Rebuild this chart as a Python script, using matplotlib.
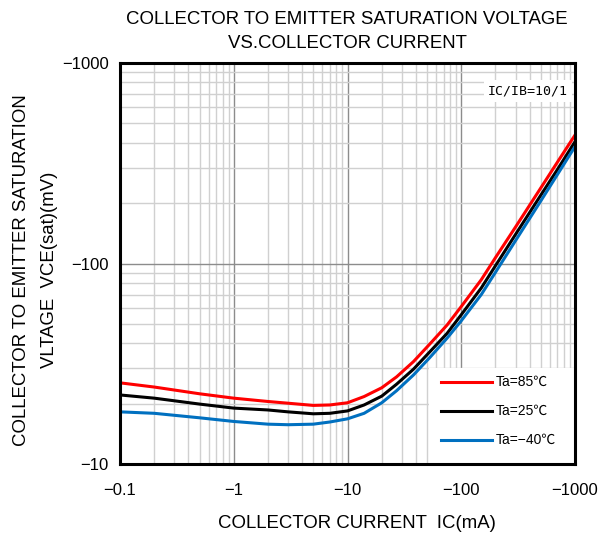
import matplotlib
matplotlib.use("Agg")
import matplotlib.pyplot as plt
from matplotlib.lines import Line2D
from matplotlib.patches import Rectangle
from matplotlib.ticker import FixedLocator, NullFormatter, LogLocator

plt.rcParams['font.family'] = ['Liberation Sans', 'Noto Sans CJK JP', 'DejaVu Sans']

# Collector current (mA, magnitude) and saturation voltage (mV, magnitude)
ic_ma = [0.1, 0.2, 0.5, 1, 2, 3, 5, 7, 10, 14, 20, 27, 38, 53, 75,
         100, 150, 200, 300, 500, 700, 1000]
vce_85 = [25.4, 24.2, 22.4, 21.3, 20.5, 20.1, 19.6, 19.7, 20.2, 21.7, 24.0, 27.2, 32.4, 39.7, 49.3,
          61.0, 83.0, 107, 152, 238, 320, 437]
vce_25 = [22.1, 21.3, 19.9, 19.0, 18.6, 18.2, 17.8, 17.9, 18.4, 19.7, 21.8, 25.0, 29.7, 36.3, 44.8,
          55.5, 75.5, 97.5, 139.6, 219, 294, 405]
vce_m40 = [18.2, 17.9, 17.0, 16.3, 15.8, 15.7, 15.8, 16.2, 16.8, 17.9, 20.2, 23.2, 27.8, 34.0, 42.4,
           51.8, 70.0, 90.4, 130, 205, 277.6, 383]

series_labels = ["Ta=85℃", "Ta=25℃", "Ta=−40℃"]
series_colors = ["#ff0000", "#000000", "#0070c0"]

x_ticks = [0.1, 1, 10, 100, 1000]
x_ticklabels = ["−0.1", "−1", "−10", "−100", "−1000"]
y_ticks = [10, 100, 1000]
y_ticklabels = ["−10", "−100", "−1000"]

fig = plt.figure(figsize=(6.09, 5.35), dpi=100)
ax = fig.add_axes([120 / 609, 71 / 535, 455 / 609, 401 / 535])
ax.set_xscale("log")
ax.set_yscale("log")
ax.set_xlim(0.1, 1000)
ax.set_ylim(10, 1000)

ax.xaxis.set_major_locator(FixedLocator(x_ticks))
ax.yaxis.set_major_locator(FixedLocator(y_ticks))
ax.xaxis.set_minor_locator(LogLocator(base=10, subs=range(2, 10)))
ax.yaxis.set_minor_locator(LogLocator(base=10, subs=range(2, 10)))
ax.xaxis.set_minor_formatter(NullFormatter())
ax.yaxis.set_minor_formatter(NullFormatter())
ax.set_xticklabels(x_ticklabels, fontsize=12)
ax.set_yticklabels(y_ticklabels, fontsize=12)
ax.tick_params(axis="x", which="both", length=0, pad=14)
ax.tick_params(axis="y", which="both", length=0, pad=8)

ax.grid(which="major", color="#8c8c8c", linewidth=1.0)
ax.grid(which="minor", color="#d0d0d0", linewidth=1.0)
ax.set_axisbelow(True)
for sp in ax.spines.values():
    sp.set_linewidth(2.2)
    sp.set_color("black")
    sp.set_zorder(10)

for vals, lab, col in zip([vce_85, vce_25, vce_m40], series_labels, series_colors):
    ax.plot(ic_ma, vals, color=col, linewidth=2.2, label=lab, zorder=3,
            solid_joinstyle="round")

# Legend panel: white box in the lower-right corner of the axes
ax.add_patch(Rectangle((0.679, 0.0), 0.321, 0.24, transform=ax.transAxes,
                       facecolor="white", edgecolor="none", zorder=5))
legend_rows = [0.205, 0.132, 0.059]
for yy, lab, col in zip(legend_rows, series_labels, series_colors):
    ax.add_line(Line2D([0.7055, 0.8176], [yy, yy], transform=ax.transAxes,
                       color=col, linewidth=2.2, zorder=6))
    ax.text(0.826, yy, lab, transform=ax.transAxes, ha="left", va="center",
            fontsize=10, zorder=6)

ax.text(0.985, 0.93, "IC/IB=10/1", transform=ax.transAxes, ha="right", va="center",
        fontsize=9.5, family="DejaVu Sans Mono", zorder=6,
        bbox=dict(facecolor="white", edgecolor="none", pad=3))

fig.text(347 / 609, 1 - 19 / 535, "COLLECTOR TO EMITTER SATURATION VOLTAGE",
         ha="center", va="center", fontsize=13.4)
fig.text(347 / 609, 1 - 44 / 535, "VS.COLLECTOR CURRENT",
         ha="center", va="center", fontsize=13.4)
fig.text(357 / 609, 1 - 523 / 535, "COLLECTOR CURRENT  IC(mA)",
         ha="center", va="center", fontsize=13.4)
fig.text(22 / 609, 1 - 270 / 535, "COLLECTOR TO EMITTER SATURATION",
         ha="center", va="center", rotation=90, fontsize=13.4)
fig.text(50 / 609, 1 - 270 / 535, "VLTAGE  VCE(sat)(mV)",
         ha="center", va="center", rotation=90, fontsize=13.4)

fig.savefig("out.png", dpi=100)
